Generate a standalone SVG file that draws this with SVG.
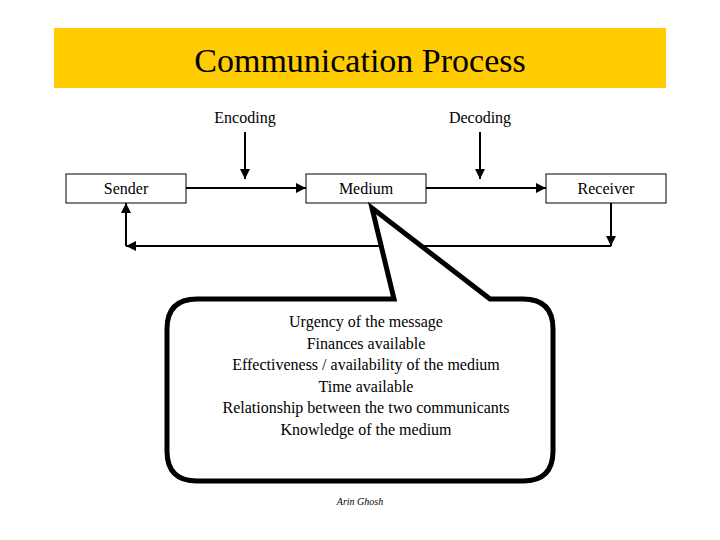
<svg xmlns="http://www.w3.org/2000/svg" width="720" height="540" viewBox="0 0 720 540">
<style>
text{font-family:"Liberation Serif","Times New Roman",serif;fill:#000;text-anchor:middle}
.n{font-size:16px}
.box{fill:#fff;stroke:#000;stroke-width:1}
.c{fill:none;stroke:#000;stroke-width:2}
</style>
<defs>
<marker id="a" viewBox="0 0 10 10" refX="10" refY="5" markerWidth="5" markerHeight="5" orient="auto"><path d="M0,0 L10,5 L0,10 Z" fill="#000"/></marker>
</defs>
<rect width="720" height="540" fill="#fff"/>
<g id="title"><rect x="54" y="28" width="612" height="60" fill="#FFCC00"/><text x="360" y="72" font-size="34">Communication Process</text></g>
<g id="connectors">
<line class="c" x1="245" y1="132" x2="245" y2="179" marker-end="url(#a)"/>
<line class="c" x1="480" y1="132" x2="480" y2="179" marker-end="url(#a)"/>
<line class="c" x1="186" y1="188" x2="306" y2="188" marker-end="url(#a)"/>
<line class="c" x1="426" y1="188" x2="546" y2="188" marker-end="url(#a)"/>
<line class="c" x1="611" y1="203" x2="611" y2="246" marker-end="url(#a)"/>
<line class="c" x1="611" y1="246" x2="126" y2="246" marker-end="url(#a)"/>
<line class="c" x1="126" y1="246" x2="126" y2="203" marker-end="url(#a)"/>
</g>
<g id="encoding"><text class="n" x="245" y="123">Encoding</text></g>
<g id="decoding"><text class="n" x="480" y="123">Decoding</text></g>
<g id="sender"><rect class="box" x="66" y="174" width="120" height="29"/><text class="n" x="126" y="194">Sender</text></g>
<g id="medium"><rect class="box" x="306" y="174" width="120" height="29"/><text class="n" x="366" y="194">Medium</text></g>
<g id="receiver"><rect class="box" x="546" y="174" width="120" height="29"/><text class="n" x="606" y="194">Receiver</text></g>
<g id="callout">
<path d="M197,299 H394 L372,208 L490,299 H523 Q553,299 553,329 V451 Q553,481 523,481 H197 Q167,481 167,451 V329 Q167,299 197,299 Z" fill="#fff" stroke="#000" stroke-width="5" stroke-linejoin="miter"/>
<text class="n" x="366" y="327">Urgency of the message</text>
<text class="n" x="366" y="349">Finances available</text>
<text class="n" x="366" y="370">Effectiveness / availability of the medium</text>
<text class="n" x="366" y="392">Time available</text>
<text class="n" x="366" y="413">Relationship between the two communicants</text>
<text class="n" x="366" y="435">Knowledge of the medium</text>
</g>
<g id="author"><text x="360" y="505" font-size="10" font-style="italic">Arin Ghosh</text></g>
</svg>
